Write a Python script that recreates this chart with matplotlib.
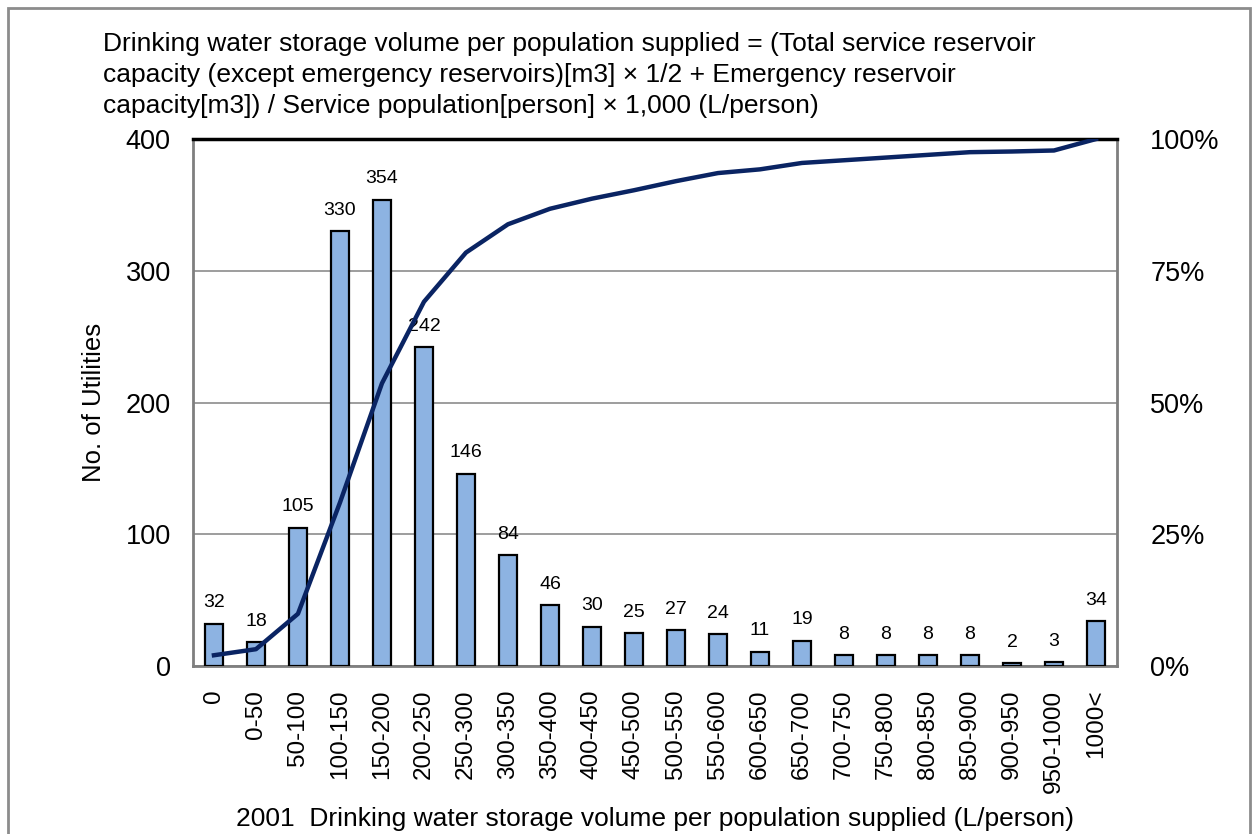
import numpy as np
import matplotlib.pyplot as plt
from matplotlib.patches import Rectangle
from matplotlib.ticker import FixedLocator

categories = ['0', '0-50', '50-100', '100-150', '150-200', '200-250', '250-300',
              '300-350', '350-400', '400-450', '450-500', '500-550', '550-600',
              '600-650', '650-700', '700-750', '750-800', '800-850', '850-900',
              '900-950', '950-1000', '1000<']
counts = [32, 18, 105, 330, 354, 242, 146, 84, 46, 30, 25, 27, 24, 11, 19,
          8, 8, 8, 8, 2, 3, 34]
left_ticks = [0, 100, 200, 300, 400]
right_ticks = [0, 25, 50, 75, 100]
right_labels = ['0%', '25%', '50%', '75%', '100%']

title = ('Drinking water storage volume per population supplied = (Total service reservoir\n'
         'capacity (except emergency reservoirs)[m3] \u00d7 1/2 + Emergency reservoir\n'
         'capacity[m3]) / Service population[person] \u00d7 1,000 (L/person)')
xlabel = '2001  Drinking water storage volume per population supplied (L/person)'
ylabel = 'No. of Utilities'

plt.rcParams['font.family'] = ['Liberation Sans', 'DejaVu Sans']

bar_color = '#8DB3E2'
line_color = '#0A2463'

# cumulative share of utilities (%)
cum_pct = np.cumsum(counts) / np.sum(counts) * 100

fig = plt.figure(figsize=(12.57, 8.34), dpi=100)
ax = fig.add_axes([0.1535, 0.2014, 0.7351, 0.6319])
x = np.arange(len(categories))

ax.bar(x, counts, width=0.42, color=bar_color, edgecolor='black', linewidth=1.6, zorder=3)
for xi, v in zip(x, counts):
    ax.annotate(str(v), (xi, v), xytext=(0, 9), textcoords='offset points',
                ha='center', va='bottom', fontsize=14)

ax.set_xlim(-0.5, len(categories) - 0.5)
ax.set_ylim(0, 400)
ax.yaxis.set_major_locator(FixedLocator(left_ticks))
ax.set_xticks(x)
ax.set_xticklabels(categories, rotation=90, fontsize=17.5)
ax.tick_params(axis='x', length=0, pad=17)
ax.tick_params(axis='y', length=0, pad=16, labelsize=19.5)
ax.grid(axis='y', color='#8C8C8C', linewidth=1.2, zorder=0)
ax.set_axisbelow(True)
for s in ['left', 'bottom', 'right']:
    ax.spines[s].set_color('#7F7F7F')
    ax.spines[s].set_linewidth(2)
ax.spines['top'].set_color('black')
ax.spines['top'].set_linewidth(2.5)

ax.set_ylabel(ylabel, fontsize=18.5, labelpad=14)
ax.set_xlabel(xlabel, fontsize=19, labelpad=10)

ax2 = ax.twinx()
ax2.plot(x, cum_pct, color=line_color, linewidth=3.2, zorder=4)
ax2.set_ylim(0, 100)
ax2.set_yticks(right_ticks)
ax2.set_yticklabels(right_labels)
ax2.tick_params(axis='y', length=0, pad=24, labelsize=19.5)
for s in ax2.spines.values():
    s.set_visible(False)

fig.text(0.082, 0.962, title, ha='left', va='top', fontsize=19, linespacing=1.37)

fig.patches.append(Rectangle((8 / 1257, -0.05), 1242 / 1257, 1.05 - 8 / 834,
                             transform=fig.transFigure, fill=False,
                             edgecolor='#8C8C8C', linewidth=2))

fig.savefig('out.png', dpi=100)
